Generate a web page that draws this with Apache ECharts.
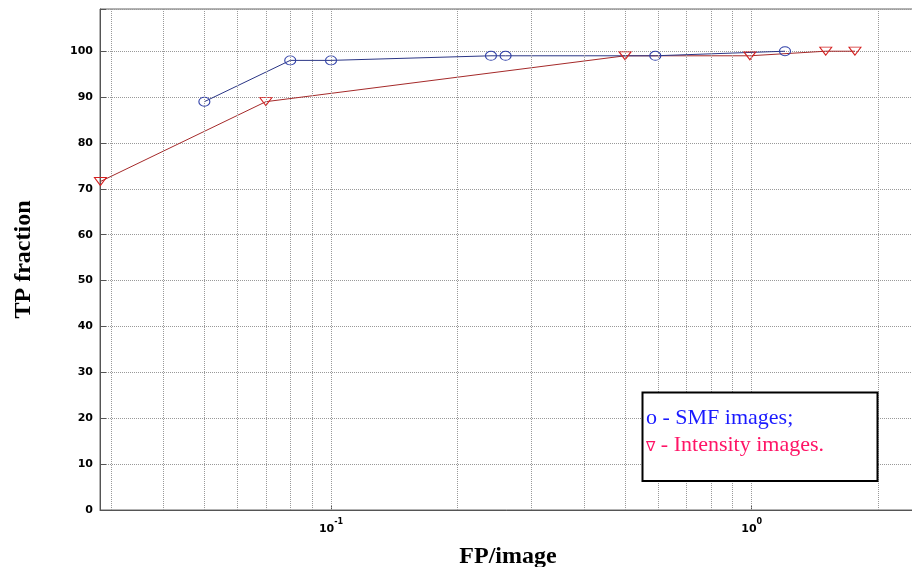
<!DOCTYPE html>
<html>
<head>
<meta charset="utf-8">
<script src="https://cdn.jsdelivr.net/npm/echarts@6/dist/echarts.min.js"></script>
<style>
html,body{margin:0;padding:0;background:#fff;}
#chart{width:912px;height:567px;}
</style>
</head>
<body>
<div id="chart"></div>
<script>
// ---- data ----
const fpSMF = [0.05, 0.08, 0.1, 0.24, 0.26, 0.59, 1.2];
const tpSMF = [89, 98, 98, 99, 99, 99, 100];
const fpIntensity = [0.0283, 0.07, 0.5, 0.99, 1.5, 1.76];
const tpIntensity = [71.6, 89, 99, 99, 100, 100];
const xGridValues = [0.03, 0.04, 0.05, 0.06, 0.07, 0.08, 0.09, 0.1,
                     0.2, 0.3, 0.4, 0.5, 0.6, 0.7, 0.8, 0.9, 1, 2];
const legendSymbols = ['o', '\u2207'];
const legendLabels = [' - SMF images;', ' - Intensity images.'];
const xAxisTitle = 'FP/image';
const yAxisTitle = 'TP fraction';

const chart = echarts.init(document.getElementById('chart'), null, {renderer: 'canvas'});

function pairs(xs, ys) { return xs.map((x, i) => [x, ys[i]]); }

const option = {
  animation: false,
  backgroundColor: '#fff',
  grid: {
    left: 100, top: 9, right: -4, bottom: 57,
    outerBoundsMode: 'none',
    containLabel: false,
    show: true, borderColor: '#666', borderWidth: 1, backgroundColor: 'transparent'
  },
  xAxis: {
    type: 'log',
    logBase: 10,
    min: 0.02824,
    max: 2.458,
    name: xAxisTitle,
    nameLocation: 'middle',
    nameGap: 35,
    nameTextStyle: {fontFamily: 'Liberation Serif', fontWeight: 'bold', fontSize: 24, color: '#000'},
    axisLine: {show: true, lineStyle: {color: '#555', width: 1}},
    axisTick: {show: true, inside: true, length: 5, lineStyle: {color: '#555'}},
    splitLine: {show: false},
    axisLabel: {
      margin: 8,
      color: '#000',
      showMinLabel: false,
      showMaxLabel: false,
      formatter: function (v) {
        const e = Math.log10(v);
        if (Math.abs(e - Math.round(e)) > 1e-6) return '';
        return '{b|10}{s|' + Math.round(e) + '}';
      },
      rich: {
        b: {fontFamily: 'DejaVu Sans', fontWeight: 'bold', fontSize: 11, color: '#000'},
        s: {fontFamily: 'DejaVu Sans', fontWeight: 'bold', fontSize: 8, color: '#000', padding: [0, 0, 15, 0]}
      }
    }
  },
  yAxis: {
    type: 'value',
    min: 0,
    max: 109.2,
    interval: 10,
    name: yAxisTitle,
    nameLocation: 'middle',
    nameGap: 64,
    nameRotate: 90,
    nameTextStyle: {fontFamily: 'Liberation Serif', fontWeight: 'bold', fontSize: 24, color: '#000'},
    axisLine: {show: true, lineStyle: {color: '#555', width: 1}},
    axisTick: {show: true, inside: true, length: 6, lineStyle: {color: '#555'}},
    splitLine: {show: true, lineStyle: {type: 'dotted', color: '#999', width: 1}},
    axisLabel: {
      margin: 7,
      color: '#000',
      fontFamily: 'DejaVu Sans', fontWeight: 'bold', fontSize: 11,
      formatter: function (v) { return (Math.abs(v % 10) < 1e-6) ? String(v) : ''; }
    }
  },
  series: [
    {
      name: 'grid',
      type: 'line',
      data: [],
      silent: true,
      markLine: {
        silent: true,
        symbol: 'none',
        label: {show: false},
        lineStyle: {type: 'dotted', color: '#999', width: 1},
        data: xGridValues.map(v => ({xAxis: v}))
      }
    },
    {
      name: 'Intensity images',
      type: 'line',
      data: pairs(fpIntensity, tpIntensity),
      clip: false,
      symbol: 'triangle',
      symbolRotate: 180,
      symbolSize: [12, 8],
      lineStyle: {color: '#a52a2a', width: 1},
      itemStyle: {color: 'rgba(255,255,255,0)', borderColor: '#d42020', borderWidth: 1}
    },
    {
      name: 'SMF images',
      type: 'line',
      data: pairs(fpSMF, tpSMF),
      clip: false,
      symbol: 'circle',
      symbolSize: [11, 9],
      lineStyle: {color: '#2a3585', width: 1},
      itemStyle: {color: 'rgba(255,255,255,0)', borderColor: '#3040a8', borderWidth: 1}
    }
  ],
  graphic: [
    {
      type: 'rect',
      shape: {x: 642.5, y: 392.5, width: 235, height: 88.5},
      style: {fill: '#fff', stroke: '#000', lineWidth: 2},
      z: 100
    },
    {
      type: 'text',
      x: 646, y: 418,
      style: {
        text: '{sym|' + legendSymbols[0] + '}{t|' + legendLabels[0] + '}',
        textVerticalAlign: 'middle',
        rich: {
          sym: {fontFamily: 'Liberation Serif', fontSize: 22, fill: '#1a1aff', color: '#1a1aff'},
          t: {fontFamily: 'Liberation Serif', fontSize: 22, fill: '#1a1aff', color: '#1a1aff'}
        }
      },
      z: 101
    },
    {
      type: 'text',
      x: 646, y: 445,
      style: {
        text: '{sym|' + legendSymbols[1] + '}{t|' + legendLabels[1] + '}',
        textVerticalAlign: 'middle',
        rich: {
          sym: {fontFamily: 'DejaVu Sans', fontSize: 14, fill: '#ff1466', color: '#ff1466', padding: [4, 0, 0, 0]},
          t: {fontFamily: 'Liberation Serif', fontSize: 22, fill: '#ff1466', color: '#ff1466'}
        }
      },
      z: 101
    }
  ]
};
chart.setOption(option);
</script>
</body>
</html>
